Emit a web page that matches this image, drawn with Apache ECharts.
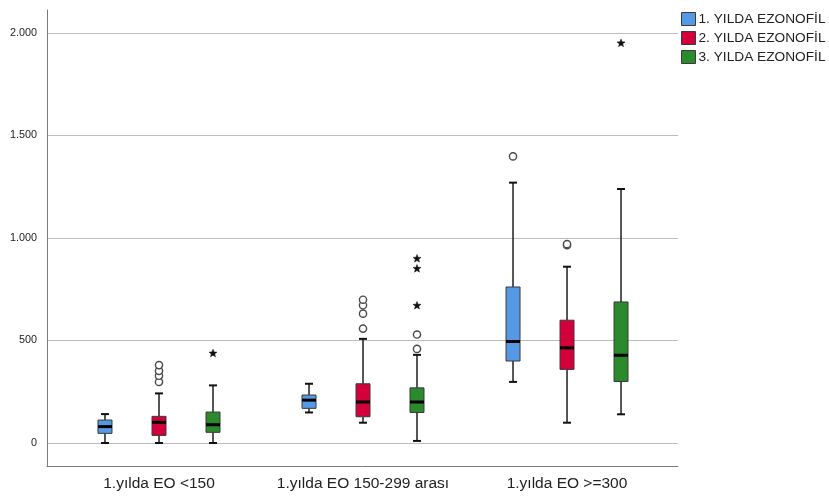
<!DOCTYPE html>
<html>
<head>
<meta charset="utf-8">
<script src="https://cdn.jsdelivr.net/npm/echarts@6/dist/echarts.min.js"></script>
<style>
html,body{margin:0;padding:0;background:#fff;}
#chart{width:829px;height:496px;}
</style>
</head>
<body>
<div id="chart"></div>
<script>
// ---- data ----
const categories = ['1.yılda EO <150', '1.yılda EO 150-299 arası', '1.yılda EO >=300'];
const seriesNames = ['1. YILDA EZONOFİL', '2. YILDA EZONOFİL', '3. YILDA EZONOFİL'];
const yTicks = [0, 500, 1000, 1500, 2000];
// [min, Q1, median, Q3, max] per category
const boxYear1 = [[0, 47, 80, 112, 141], [149, 169, 209, 234, 289], [298, 400, 495, 761, 1270]];
const boxYear2 = [[0, 37, 101, 130, 242], [99, 128, 200, 289, 508], [99, 359, 464, 599, 860]];
const boxYear3 = [[0, 52, 89, 151, 281], [10, 149, 200, 269, 430], [140, 300, 428, 688, 1239]];
// outliers (circles): [categoryIndex, value]
const outYear1 = [[2, 1398]];
const outYear2 = [[0, 298], [0, 328], [0, 352], [0, 380], [1, 558], [1, 631], [1, 672], [1, 699], [2, 965], [2, 970]];
const outYear3 = [[1, 459], [1, 529]];
// extremes (stars): [categoryIndex, value]
const extYear1 = [];
const extYear2 = [];
const extYear3 = [[0, 437], [1, 670], [1, 850], [1, 899], [2, 1950]];

// ---- styles ----
const COLORS = ['#5599e4', '#d4003b', '#2a8a2c'];
const OFFSET = [-0.2647, 0, 0.2647];
const boxes = [boxYear1, boxYear2, boxYear3];
const outs = [outYear1, outYear2, outYear3];
const exts = [extYear1, extYear2, extYear3];
const FONT = 'Liberation Sans, Arial, sans-serif';

function fmt(v) { return String(v).replace(/\B(?=(\d{3})+(?!\d))/g, '.'); }

function boxRender(k) {
  return function (params, api) {
    const x = api.coord([api.value(0) + OFFSET[k], 0])[0];
    const y = i => api.coord([0, api.value(i)])[1];
    const yMin = y(1), yQ1 = y(2), yMed = y(3), yQ3 = y(4), yMax = y(5);
    const hw = 7, cw = 4;
    const ws = { stroke: '#1e1e1e', lineWidth: 1.5 };
    const cs = { stroke: '#111', lineWidth: 2 };
    return {
      type: 'group', children: [
        { type: 'line', shape: { x1: x, y1: yQ3, x2: x, y2: yMax }, style: ws },
        { type: 'line', shape: { x1: x, y1: yQ1, x2: x, y2: yMin }, style: ws },
        { type: 'line', shape: { x1: x - cw, y1: yMax, x2: x + cw, y2: yMax }, style: cs },
        { type: 'line', shape: { x1: x - cw, y1: yMin, x2: x + cw, y2: yMin }, style: cs },
        { type: 'rect', shape: { x: x - hw, y: yQ3, width: 2 * hw, height: yQ1 - yQ3 }, style: { fill: COLORS[k], stroke: '#3a3a3a', lineWidth: 1 } },
        { type: 'line', shape: { x1: x - hw, y1: yMed, x2: x + hw, y2: yMed }, style: { stroke: '#000', lineWidth: 3 } }
      ]
    };
  };
}

function starPoints(cx, cy, R, r) {
  const pts = [];
  for (let i = 0; i < 10; i++) {
    const a = -Math.PI / 2 + i * Math.PI / 5;
    const rad = i % 2 === 0 ? R : r;
    pts.push([cx + rad * Math.cos(a), cy + rad * Math.sin(a)]);
  }
  return pts;
}

function pointRender(k) {
  return function (params, api) {
    const p = api.coord([api.value(0) + OFFSET[k], api.value(1)]);
    if (api.value(2) === 1) {
      return { type: 'polygon', shape: { points: starPoints(p[0], p[1], 4.2, 1.8) }, style: { fill: '#111', stroke: '#111', lineWidth: 0.5 } };
    }
    return { type: 'circle', shape: { cx: p[0], cy: p[1], r: 3.6 }, style: { fill: '#fff', stroke: '#4a4a4a', lineWidth: 1.4 } };
  };
}

const series = [];
for (let k = 0; k < 3; k++) {
  series.push({
    name: seriesNames[k],
    type: 'custom',
    xAxisIndex: 1, yAxisIndex: 1,
    itemStyle: { color: COLORS[k] },
    renderItem: boxRender(k),
    encode: { x: 0, y: [1, 2, 3, 4, 5] },
    data: boxes[k].map((b, i) => [i].concat(b))
  });
  series.push({
    name: 'pts' + k,
    type: 'custom',
    xAxisIndex: 1, yAxisIndex: 1,
    renderItem: pointRender(k),
    encode: { x: 0, y: 1 },
    data: outs[k].map(d => [d[0], d[1], 0]).concat(exts[k].map(d => [d[0], d[1], 1]))
  });
}

const chart = echarts.init(document.getElementById('chart'), null, { renderer: 'canvas' });
chart.setOption({
  animation: false,
  backgroundColor: '#fff',
  textStyle: { fontFamily: FONT },
  legend: {
    orient: 'vertical',
    left: 681, top: 12, padding: 0,
    itemWidth: 14, itemHeight: 13, itemGap: 5,
    icon: 'rect',
    selectedMode: false,
    textStyle: { fontSize: 13.7, color: '#222', padding: [0, 0, 0, -2], fontFamily: FONT },
    data: seriesNames.map((n, k) => ({ name: n, itemStyle: { color: COLORS[k], borderColor: '#3a3a3a', borderWidth: 1 } }))
  },
  grid: [
    { left: 47, right: 151, top: 10, bottom: 30 },
    { left: 47, right: 151, top: 33, bottom: 53 },
    { left: 57, right: 160, top: 10, bottom: 30 }
  ],
  xAxis: [
    { gridIndex: 0, type: 'value', min: 0, max: 1, axisLine: { show: true, onZero: false, lineStyle: { color: '#7a7a7a', width: 1 } }, axisTick: { show: false }, axisLabel: { show: false }, splitLine: { show: false } },
    { gridIndex: 1, type: 'value', min: -0.549, max: 2.544, show: false },
    { gridIndex: 2, type: 'category', data: categories, axisLine: { show: false }, axisTick: { show: false }, splitLine: { show: false },
      axisLabel: { interval: 0, margin: 10, fontSize: 15.5, color: '#222', fontFamily: FONT } }
  ],
  yAxis: [
    { gridIndex: 0, type: 'value', min: 0, max: 1, axisLine: { show: true, onZero: false, lineStyle: { color: '#7a7a7a', width: 1 } }, axisTick: { show: false }, axisLabel: { show: false }, splitLine: { show: false } },
    { gridIndex: 1, type: 'value', min: yTicks[0], max: yTicks[yTicks.length - 1], interval: 500,
      axisLine: { show: false }, axisTick: { show: false },
      axisLabel: { margin: 10, fontSize: 10.8, color: '#222', formatter: v => fmt(v), fontFamily: FONT } ,
      splitLine: { show: true, lineStyle: { color: '#bdbdbd', width: 1 } } },
    { gridIndex: 2, type: 'value', min: 0, max: 1, show: false }
  ],
  series: series
});
</script>
</body>
</html>
